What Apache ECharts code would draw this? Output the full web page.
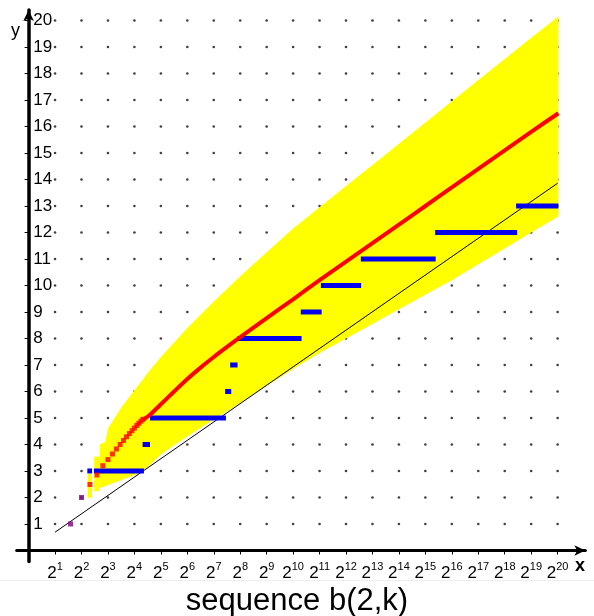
<!DOCTYPE html>
<html>
<head>
<meta charset="utf-8">
<script src="https://cdn.jsdelivr.net/npm/echarts@6/dist/echarts.min.js"></script>
<style>
  html, body { margin: 0; padding: 0; background: #fff; }
  #chart { width: 594px; height: 616px; }
</style>
</head>
<body>
<div id="chart"></div>
<script>
// x is log2(k), shown as 2^n
const xTicks = [1, 2, 3, 4, 5, 6, 7, 8, 9, 10, 11, 12, 13, 14, 15, 16, 17, 18, 19, 20];
const yTicks = [1, 2, 3, 4, 5, 6, 7, 8, 9, 10, 11, 12, 13, 14, 15, 16, 17, 18, 19, 20];

// k = 3, 4 : red and blue on the same spot
const purpleT = [1.585, 2];
const purpleY = [1, 2];

// red mean, single points for k = 5..20
const redDotT = [2.32, 2.585, 2.807, 3, 3.17, 3.32, 3.46, 3.585, 3.70, 3.81, 3.91, 4, 4.09, 4.17, 4.25, 4.32];
const redDotY = [2.49, 2.85, 3.2, 3.43, 3.64, 3.83, 4.0, 4.15, 4.29, 4.41, 4.52, 4.62, 4.72, 4.8, 4.88, 4.95];

// red mean, continuous part
const redT = [4.32, 4.6, 5, 5.5, 6, 6.5, 7, 7.5, 8, 9, 10, 11, 12, 13, 14, 15, 16, 17, 18, 19, 20.03];
const redY = [4.93, 5.13, 5.52, 6.0, 6.47, 6.9, 7.3, 7.68, 8.05, 8.77, 9.48, 10.2, 10.9, 11.6, 12.3, 13.0, 13.7, 14.4, 15.1, 15.8, 16.5];

// yellow band
const bandT = [2.69, 2.9, 3, 3.5, 4, 4.35, 4.5, 5, 5.5, 6, 7, 8, 9, 10, 11, 12, 13, 14, 15, 16, 17, 18, 19, 20.03];
const bandHigh = [4.0, 4.1, 4.6, 5.4, 6.05, 6.5, 6.7, 7.3, 7.85, 8.4, 9.4, 10.35, 11.25, 12.15, 12.95, 13.75, 14.55, 15.35, 16.15, 16.95, 17.75, 18.55, 19.35, 20.15];
const bandLow = [2.37, 2.42, 2.47, 2.65, 2.85, 3.03, 3.15, 3.62, 3.97, 4.3, 4.95, 5.56, 6.22, 6.85, 7.45, 8.0, 8.55, 9.1, 9.65, 10.2, 10.8, 11.4, 12.0, 12.6];
// first two stripes (k = 5, 6)
const stripeFrom = [2.23, 2.48];
const stripeTo = [2.40, 2.66];
const stripeLow = [1.99, 2.24];
const stripeHigh = [2.88, 3.54];

// blue levels: value and log2 range
const blueY = [3, 3, 4, 5, 6, 7, 8, 9, 10, 11, 12, 13];
const blueFrom = [2.22, 2.47, 4.31, 4.59, 7.43, 7.62, 7.89, 10.29, 11.05, 12.56, 15.37, 18.43];
const blueTo = [2.40, 4.36, 4.59, 7.46, 7.66, 7.9, 10.32, 11.08, 12.57, 15.39, 18.47, 20.03];

// y = ln x
const lnT = [1, 20];
const lnY = [0.69, 13.86];

const FONT = '"Liberation Sans", Arial, sans-serif';

const chart = echarts.init(document.getElementById('chart'), null, { renderer: 'canvas' });

const dots = [];
xTicks.forEach(t => yTicks.forEach(v => dots.push([t, v])));

function rectItem(params, api) {
  const a = api.coord([api.value(0), api.value(2)]);
  const b = api.coord([api.value(1), api.value(2)]);
  return {
    type: 'rect',
    shape: { x: a[0], y: a[1] - 2.5, width: b[0] - a[0], height: 5 },
    style: { fill: '#0000ee' }
  };
}

const option = {
  animation: false,
  title: {
    text: 'sequence b(2,k)',
    left: 'center',
    top: 581,
    textStyle: { fontFamily: FONT, fontSize: 31, fontWeight: 'normal', color: '#000' }
  },
  grid: { left: 16.7, right: 8.6, top: 9.9, bottom: 54.4 },
  xAxis: {
    type: 'value',
    min: -0.45,
    max: 21.05,
    splitLine: { show: false },
    axisLine: { onZero: true, lineStyle: { color: '#000', width: 3 }, symbol: ['none', 'arrow'], symbolSize: [8, 11] },
    axisTick: { customValues: xTicks, length: 4, lineStyle: { color: '#000', width: 1 } },
    axisLabel: {
      customValues: xTicks,
      margin: 0,
      formatter: v => '{b|2}{s|' + v + '}',
      rich: {
        b: { fontFamily: FONT, fontSize: 17, color: '#000', lineHeight: 20, verticalAlign: 'bottom' },
        s: { fontFamily: FONT, fontSize: 11, color: '#000', lineHeight: 12, verticalAlign: 'top' }
      }
    }
  },
  yAxis: {
    type: 'value',
    min: -0.42,
    max: 20.4,
    splitLine: { show: false },
    axisLine: { onZero: true, lineStyle: { color: '#000', width: 3.5 }, symbol: ['none', 'arrow'], symbolSize: [8, 11] },
    axisTick: { customValues: yTicks, length: 4, lineStyle: { color: '#000', width: 1 } },
    axisLabel: {
      customValues: yTicks,
      inside: false,
      margin: -16.5,
      align: 'left',
      fontFamily: FONT,
      fontSize: 17,
      color: '#000'
    }
  },
  graphic: [
    { type: 'text', left: 11, top: 22, style: { text: 'y', fontFamily: FONT, fontSize: 18, fill: '#000' } },
    { type: 'text', left: 575, top: 557, style: { text: 'x', fontFamily: FONT, fontSize: 18, fontWeight: 'bold', fill: '#000' } },
    { type: 'line', shape: { x1: 0, y1: 580.5, x2: 594, y2: 580.5 }, style: { stroke: '#eeeeee', lineWidth: 1 } }
  ],
  series: [
    {
      name: 'grid dots',
      type: 'scatter',
      data: dots,
      symbol: 'circle',
      symbolSize: 2.6,
      itemStyle: { color: '#111' },
      silent: true,
      z: 1
    },
    {
      name: 'band',
      type: 'custom',
      data: [0],
      z: 2,
      silent: true,
      renderItem(params, api) {
        const pts = [];
        bandT.forEach((t, i) => pts.push(api.coord([t, bandHigh[i]])));
        for (let i = bandT.length - 1; i >= 0; i--) pts.push(api.coord([bandT[i], bandLow[i]]));
        const children = [{ type: 'polygon', shape: { points: pts }, style: { fill: '#ffff00' } }];
        stripeFrom.forEach((t0, i) => {
          const a = api.coord([t0, stripeHigh[i]]);
          const b = api.coord([stripeTo[i], stripeLow[i]]);
          children.push({ type: 'rect', shape: { x: a[0], y: a[1], width: b[0] - a[0], height: b[1] - a[1] }, style: { fill: '#ffff00' } });
        });
        return { type: 'group', children };
      }
    },
    {
      name: 'ln x',
      type: 'line',
      data: lnT.map((t, i) => [t, lnY[i]]),
      symbol: 'none',
      lineStyle: { color: '#000', width: 1 },
      z: 3
    },
    {
      name: 'blue',
      type: 'custom',
      data: blueY.map((v, i) => [blueFrom[i], blueTo[i], v]),
      renderItem: rectItem,
      z: 4
    },
    {
      name: 'red line',
      type: 'line',
      data: redT.map((t, i) => [t, redY[i]]),
      symbol: 'none',
      smooth: 0.3,
      lineStyle: { color: '#ff0000', width: 4 },
      z: 5
    },
    {
      name: 'red points',
      type: 'scatter',
      data: redDotT.map((t, i) => [t, redDotY[i]]),
      symbol: 'rect',
      symbolSize: 5,
      itemStyle: { color: '#ff0000' },
      z: 5
    },
    {
      name: 'both',
      type: 'scatter',
      data: purpleT.map((t, i) => [t, purpleY[i]]),
      symbol: 'rect',
      symbolSize: 5,
      itemStyle: { color: '#800080' },
      z: 6
    }
  ]
};

chart.setOption(option);
</script>
</body>
</html>
